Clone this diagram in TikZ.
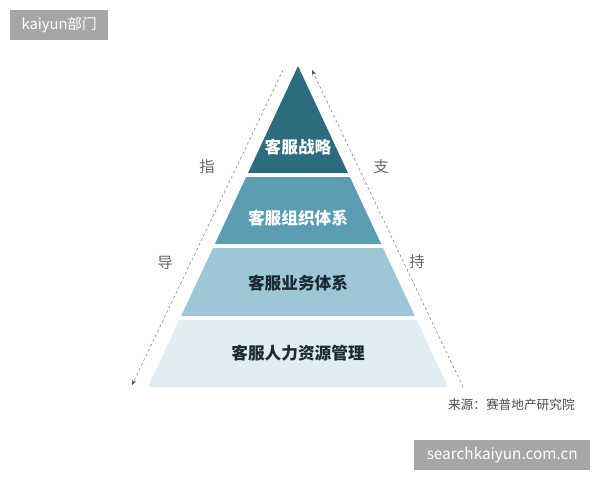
\documentclass[tikz,border=0pt]{standalone}
\usepackage{fontspec}
\newfontfamily\cjk{Noto Sans CJK SC}
\usepackage{xcolor}
\definecolor{layer1}{HTML}{2D6B7E}
\definecolor{layer2}{HTML}{5A9DB3}
\definecolor{layer3}{HTML}{9DC6D7}
\definecolor{layer4}{HTML}{E0EDF3}
\definecolor{markgray}{HTML}{A6A6A6}
\definecolor{inkdark}{HTML}{1B2A33}
\usetikzlibrary{positioning,arrows.meta,calc}

\begin{document}
\begin{tikzpicture}[x=0.75pt, y=-0.75pt,
    layerlabel/.style={font=\cjk\bfseries\fontsize{12.5}{14}\selectfont, inner sep=0pt},
    sidelabel/.style={font=\cjk\fontsize{11.5}{13}\selectfont, text=black!60, inner sep=0pt},
    guide/.style={draw=black!45, dashed, dash pattern=on 2pt off 2pt, line width=0.5pt,
      -{Stealth[length=4pt, width=3pt, black!70]}},
    markbox/.style={fill=markgray, text=white, inner sep=0pt}]
  \useasboundingbox (0,0) rectangle (600,480);
  % pyramid outline points
  \coordinate (apex) at (298,66);
  \coordinate (bl) at (148,387);
  \coordinate (br) at (448,387);
  % layers, top to bottom
  \fill[layer1] (apex) -- ($(apex)!0.3333!(bl)$) -- ($(apex)!0.3333!(br)$) -- cycle;
  \fill[layer2] ($(apex)!0.3458!(bl)$) -- ($(apex)!0.5545!(bl)$)
    -- ($(apex)!0.5545!(br)$) -- ($(apex)!0.3458!(br)$) -- cycle;
  \fill[layer3] ($(apex)!0.5670!(bl)$) -- ($(apex)!0.7788!(bl)$)
    -- ($(apex)!0.7788!(br)$) -- ($(apex)!0.5670!(br)$) -- cycle;
  \fill[layer4] ($(apex)!0.7913!(bl)$) -- (bl) -- (br) -- ($(apex)!0.7913!(br)$) -- cycle;
  \node[layerlabel, text=white] (strategy) at (298,147) {客服战略};
  \node[layerlabel, text=white] (organize) at (298,218) {客服组织体系};
  \node[layerlabel, text=inkdark] (business) at (298,283) {客服业务体系};
  \node[layerlabel, text=inkdark] (hr) at (298,353) {客服人力资源管理};
  % guidance and support arrows
  \coordinate (guidetop) at (283,70);
  \coordinate (guideend) at (132,385);
  \coordinate (supportbot) at (463,387);
  \coordinate (supporttop) at (312,70);
  \draw[guide] (guidetop) -- (guideend);
  \draw[guide] (supportbot) -- (supporttop);
  \node[sidelabel] (zhi) at (207,167) {指};
  \node[sidelabel] (dao) at (165,263) {导};
  \node[sidelabel] (zhu) at (381,167) {支};
  \node[sidelabel] (chi) at (417,262) {持};
  % source and marks
  \node[font=\cjk\fontsize{9.5}{11}\selectfont, text=black!70, anchor=east, inner sep=0pt]
    (source) at (575,405) {来源：赛普地产研究院};
  \node[markbox, minimum width=73.5pt, minimum height=22.5pt, anchor=north west,
    font=\cjk\fontsize{11}{13}\selectfont] (topmark) at (10,10) {kaiyun部门};
  \node[markbox, minimum width=132pt, minimum height=22.5pt, anchor=north west,
    font=\cjk\fontsize{11.5}{13}\selectfont] (botmark) at (414,440) {searchkaiyun.com.cn};
\end{tikzpicture}
\end{document}
